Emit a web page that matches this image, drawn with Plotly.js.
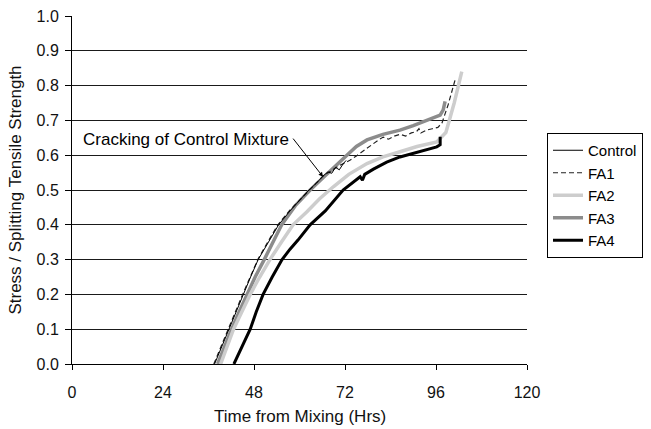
<!DOCTYPE html>
<html>
<head>
<meta charset="utf-8">
<script src="https://cdn.plot.ly/plotly-3.0.1.min.js"></script>
<style>
  html, body { margin: 0; padding: 0; background: #fff; }
  #chart { width: 651px; height: 429px; }
</style>
</head>
<body>
<div id="chart"></div>
<script>
// Time from mixing (hours) and stress / splitting tensile strength for each mixture
const controlHrs = [37.6, 39.5, 41.2, 43.1, 45.1, 47.1, 49.1, 51.7, 54.5, 57.5, 60.0, 62.5, 64.5, 66.2, 67.5, 68.5, 69.5, 70.5, 71.5, 72.3];
const controlVal = [0.00, 0.05, 0.10, 0.15, 0.20, 0.25, 0.30, 0.35, 0.40, 0.44, 0.47, 0.50, 0.52, 0.54, 0.552, 0.548, 0.565, 0.558, 0.575, 0.585];

const fa1Hrs = [37.4, 39.3, 41.0, 43.0, 45.0, 47.0, 49.0, 51.6, 54.3, 57.3, 60.0, 62.5, 64.5, 66.2, 67.6, 69.0, 70.5, 72.0, 73.4, 75.0, 76.5, 78.0, 79.5, 81.0, 82.1, 83.5, 85.0, 86.5, 88.0, 89.5, 90.9, 91.5, 92.0, 93.5, 95.0, 96.5, 97.1, 97.5, 99.2, 101.0];
const fa1Val = [0.00, 0.05, 0.10, 0.15, 0.20, 0.25, 0.30, 0.35, 0.40, 0.44, 0.47, 0.50, 0.52, 0.54, 0.55, 0.56, 0.57, 0.578, 0.586, 0.598, 0.61, 0.622, 0.632, 0.645, 0.652, 0.646, 0.655, 0.66, 0.655, 0.664, 0.668, 0.676, 0.664, 0.672, 0.676, 0.68, 0.687, 0.69, 0.745, 0.815];

const fa2Hrs = [39.2, 40.9, 42.6, 44.8, 47.0, 49.5, 52.2, 55.2, 58.3, 61.9, 65.3, 69.0, 73.0, 77.8, 82.0, 86.5, 91.0, 96.2, 98.6, 100.8, 102.8];
const fa2Val = [0.00, 0.05, 0.10, 0.15, 0.20, 0.25, 0.30, 0.35, 0.40, 0.437, 0.475, 0.51, 0.545, 0.576, 0.595, 0.61, 0.625, 0.638, 0.665, 0.75, 0.84];

const fa3Hrs = [38.4, 40.2, 42.1, 44.1, 46.1, 48.3, 50.7, 52.9, 55.3, 58.9, 62.8, 66.2, 69.0, 72.5, 75.0, 77.8, 82.0, 86.5, 90.0, 93.6, 95.3, 97.1, 97.9, 98.4];
const fa3Val = [0.00, 0.05, 0.10, 0.15, 0.20, 0.25, 0.30, 0.35, 0.40, 0.455, 0.50, 0.535, 0.565, 0.60, 0.625, 0.644, 0.66, 0.672, 0.685, 0.70, 0.707, 0.715, 0.73, 0.755];

const fa4Hrs = [42.7, 44.8, 47.0, 48.6, 50.4, 52.8, 55.4, 57.5, 59.6, 62.8, 66.8, 71.5, 74.0, 76.0, 76.6, 77.2, 79.5, 83.0, 86.5, 90.0, 93.0, 96.2, 97.1, 97.1];
const fa4Val = [0.00, 0.05, 0.10, 0.15, 0.20, 0.25, 0.30, 0.33, 0.356, 0.40, 0.44, 0.50, 0.52, 0.538, 0.528, 0.545, 0.56, 0.58, 0.595, 0.605, 0.615, 0.624, 0.63, 0.653];

const xTicks = [0, 24, 48, 72, 96, 120];
const yTicks = [0.0, 0.1, 0.2, 0.3, 0.4, 0.5, 0.6, 0.7, 0.8, 0.9, 1.0];
const yTickText = yTicks.map(v => v.toFixed(1));

const FONT = 'Arial, "Liberation Sans", sans-serif';

// Draw order: wide grey bands first, thin black lines on top; legendrank keeps the legend order
const traces = [
  { x: fa3Hrs, y: fa3Val, name: 'FA3', mode: 'lines', legendrank: 4,
    line: { color: '#8c8c8c', width: 3.5 } },
  { x: fa2Hrs, y: fa2Val, name: 'FA2', mode: 'lines', legendrank: 3,
    line: { color: '#cdcdcd', width: 3.5 } },
  { x: fa4Hrs, y: fa4Val, name: 'FA4', mode: 'lines', legendrank: 5,
    line: { color: '#000000', width: 3 } },
  { x: fa1Hrs, y: fa1Val, name: 'FA1', mode: 'lines', legendrank: 2,
    line: { color: '#222222', width: 1.2, dash: '5px,3px' } },
  { x: controlHrs, y: controlVal, name: 'Control', mode: 'lines', legendrank: 1,
    line: { color: '#000000', width: 1 } }
];

const layout = {
  width: 651,
  height: 429,
  margin: { l: 72, r: 124, t: 16, b: 65, autoexpand: false },
  paper_bgcolor: '#ffffff',
  plot_bgcolor: '#ffffff',
  font: { family: FONT, size: 16, color: '#111' },
  showlegend: true,
  legend: {
    xref: 'container', yref: 'container',
    x: 547 / 651, xanchor: 'left',
    y: 1 - 133 / 429, yanchor: 'top',
    bordercolor: '#000', borderwidth: 1, bgcolor: '#fff',
    font: { family: FONT, size: 15, color: '#000' },
    traceorder: 'normal'
  },
  xaxis: {
    range: [0, 120],
    tickvals: xTicks,
    ticktext: xTicks.map(String),
    showgrid: false,
    zeroline: false,
    showline: true, linecolor: '#000', linewidth: 1,
    ticks: 'outside', ticklen: 5, tickcolor: '#000',
    ticklabelstandoff: 9,
    tickfont: { family: FONT, size: 16, color: '#111' }
  },
  yaxis: {
    range: [0, 1],
    tickvals: yTicks,
    ticktext: yTickText,
    showgrid: true, gridcolor: '#1a1a1a', gridwidth: 1,
    zeroline: false,
    showline: true, linecolor: '#000', linewidth: 1,
    ticks: 'outside', ticklen: 6, tickcolor: '#000',
    ticklabelstandoff: 3,
    tickfont: { family: FONT, size: 16, color: '#111' },
    title: { text: 'Stress / Splitting Tensile Strength', font: { family: FONT, size: 17, color: '#111' }, standoff: 10 }
  },
  annotations: [
    // x-axis title placed in the bottom margin below the tick labels
    { x: 0.5, y: -0.152, xref: 'paper', yref: 'paper', xanchor: 'center', yanchor: 'middle',
      text: 'Time from Mixing (Hrs)', showarrow: false,
      font: { family: FONT, size: 17, color: '#111' } },
    { x: 2.3, y: 0.644, xref: 'x', yref: 'y', xanchor: 'left', yanchor: 'middle',
      text: 'Cracking of Control Mixture', showarrow: false,
      font: { family: FONT, size: 17, color: '#000' } },
    { x: 66.2, y: 0.538, xref: 'x', yref: 'y', text: '',
      showarrow: true, axref: 'x', ayref: 'y', ax: 58.0, ay: 0.652,
      arrowhead: 2, arrowsize: 0.9, arrowwidth: 1, arrowcolor: '#000' }
  ]
};

Plotly.newPlot('chart', traces, layout, { displayModeBar: false, staticPlot: true });
</script>
</body>
</html>
